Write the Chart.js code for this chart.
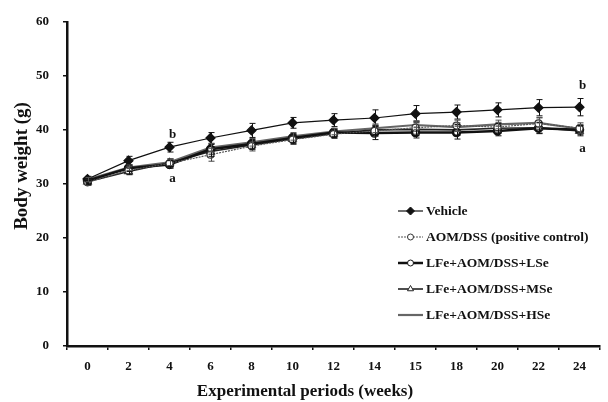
<!DOCTYPE html>
<html>
<head>
<meta charset="utf-8">
<script src="https://cdn.jsdelivr.net/npm/chart.js@4"></script>
<style>
  body { margin: 0; background: #fff; }
  #wrap { width: 608px; height: 402px; }
</style>
</head>
<body>
<div id="wrap"><canvas id="myChart"></canvas></div>
<script>
// Data
const weeks = ['0', '2', '4', '6', '8', '10', '12', '14', '15', '18', '20', '22', '24'];

const vehicle = [30.9, 34.3, 36.8, 38.5, 39.9, 41.3, 41.8, 42.2, 43.0, 43.3, 43.7, 44.1, 44.2];
const aomDss  = [30.3, 32.5, 33.8, 35.4, 37.0, 38.2, 39.2, 39.8, 40.4, 40.8, 40.5, 41.2, 40.3];
const lfeLse  = [30.6, 32.9, 33.6, 36.4, 37.4, 38.5, 39.5, 39.4, 39.5, 39.5, 39.8, 40.3, 40.0];
const lfeMse  = [30.4, 32.3, 33.9, 36.0, 37.2, 38.3, 39.3, 40.0, 40.1, 40.0, 40.3, 40.4, 39.8];
const lfeHse  = [30.8, 33.0, 34.0, 36.7, 37.7, 38.8, 39.7, 40.3, 40.9, 40.5, 41.0, 41.3, 40.2];

const vehicleErr = [0.5, 0.8, 0.9, 1.0, 1.3, 1.0, 1.2, 1.5, 1.5, 1.3, 1.3, 1.5, 1.6];
const aomDssErr  = [0.6, 0.7, 0.8, 1.2, 0.9, 0.9, 0.8, 1.0, 1.2, 1.0, 0.9, 1.1, 1.0];
const lfeLseErr  = [0.5, 0.6, 0.7, 0.9, 0.8, 0.8, 0.7, 1.2, 1.0, 1.2, 0.9, 1.0, 0.8];
const lfeMseErr  = [0.5, 0.6, 0.7, 0.9, 0.8, 0.8, 0.7, 0.9, 1.2, 1.0, 0.9, 1.0, 0.9];
const lfeHseErr  = [0.4, 0.5, 0.6, 0.8, 0.7, 0.7, 0.6, 0.8, 0.8, 0.8, 0.8, 0.9, 0.8];

// significance letters: [week label, value, text]
const letters = [['4', 39.2, 'b'], ['4', 30.9, 'a'], ['24', 48.1, 'b'], ['24', 36.6, 'a']];

const xTitle = 'Experimental periods (weeks)';
const yTitle = 'Body weight (g)';

const serif = '"Liberation Serif", "Times New Roman", serif';

const errorBars = {
    id: 'errorBars',
    afterDatasetsDraw(chart) {
        const ctx = chart.ctx;
        const x = chart.scales.x, y = chart.scales.y;
        ctx.save();
        chart.data.datasets.forEach(ds => {
            if (!ds.err) return;
            ctx.strokeStyle = ds.barColor || '#111';
            ctx.lineWidth = 1;
            ds.data.forEach((v, i) => {
                const px = Math.round(x.getPixelForValue(i)) + 0.5;
                const top = y.getPixelForValue(v + ds.err[i]);
                const bot = y.getPixelForValue(v - ds.err[i]);
                ctx.beginPath();
                ctx.moveTo(px, top); ctx.lineTo(px, bot);
                ctx.moveTo(px - 3, top); ctx.lineTo(px + 3, top);
                ctx.moveTo(px - 3, bot); ctx.lineTo(px + 3, bot);
                ctx.stroke();
            });
        });
        ctx.restore();
    },
    afterDraw(chart) {
        const ctx = chart.ctx;
        const x = chart.scales.x, y = chart.scales.y;
        ctx.save();
        ctx.fillStyle = '#111';
        ctx.font = 'bold 13px ' + serif;
        ctx.textAlign = 'center';
        ctx.textBaseline = 'middle';
        letters.forEach(([w, v, t]) => {
            ctx.fillText(t, x.getPixelForValue(weeks.indexOf(w)) + 3, y.getPixelForValue(v));
        });

        // axis titles (sit off-centre in the original figure)
        ctx.font = 'bold 17px ' + serif;
        ctx.fillText(xTitle, 305, 392);
        ctx.save();
        ctx.translate(22, 166);
        ctx.rotate(-Math.PI / 2);
        ctx.font = 'bold 19px ' + serif;
        ctx.fillText(yTitle, 0, 0);
        ctx.restore();

        // legend inside the plot area
        const lx = 398, ly = 211, step = 26;
        ctx.textAlign = 'left';
        ctx.font = 'bold 13.5px ' + serif;
        chart.data.datasets.forEach((ds, i) => {
            const cy = ly + i * step;
            ctx.strokeStyle = ds.borderColor;
            ctx.lineWidth = ds.borderWidth;
            ctx.setLineDash(ds.borderDash || []);
            ctx.beginPath();
            ctx.moveTo(lx, cy); ctx.lineTo(lx + 25, cy);
            ctx.stroke();
            ctx.setLineDash([]);
            if (ds.pointRadius > 0) {
                ctx.fillStyle = ds.pointBackgroundColor;
                ctx.strokeStyle = ds.pointBorderColor;
                ctx.lineWidth = 1;
                Chart.helpers.drawPoint(ctx, {
                    pointStyle: ds.pointStyle, radius: ds.pointRadius - 0.5,
                    borderWidth: 1, rotation: 0
                }, lx + 12.5, cy);
            }
            ctx.fillStyle = '#111';
            ctx.fillText(ds.label, lx + 28, cy + 1);
        });
        ctx.restore();
    }
};

const ctx = document.getElementById('myChart').getContext('2d');
new Chart(ctx, {
    type: 'line',
    data: {
        labels: weeks,
        datasets: [
            {
                label: 'Vehicle', data: vehicle, err: vehicleErr,
                borderColor: '#111', borderWidth: 1.2,
                pointStyle: 'rectRot', pointRadius: 4.5,
                pointBackgroundColor: '#111', pointBorderColor: '#111'
            },
            {
                label: 'AOM/DSS (positive control)', data: aomDss, err: aomDssErr,
                borderColor: '#555', borderWidth: 1.2, borderDash: [2, 1],
                pointStyle: 'circle', pointRadius: 3.5,
                pointBackgroundColor: '#fff', pointBorderColor: '#333', barColor: '#444'
            },
            {
                label: 'LFe+AOM/DSS+LSe', data: lfeLse, err: lfeLseErr,
                borderColor: '#111', borderWidth: 2.5,
                pointStyle: 'circle', pointRadius: 3.5,
                pointBackgroundColor: '#fff', pointBorderColor: '#111'
            },
            {
                label: 'LFe+AOM/DSS+MSe', data: lfeMse, err: lfeMseErr,
                borderColor: '#222', borderWidth: 1.6,
                pointStyle: 'triangle', pointRadius: 4,
                pointBackgroundColor: '#fff', pointBorderColor: '#222'
            },
            {
                label: 'LFe+AOM/DSS+HSe', data: lfeHse, err: lfeHseErr,
                borderColor: '#666', borderWidth: 2.2,
                pointStyle: 'circle', pointRadius: 0,
                pointBackgroundColor: '#666', pointBorderColor: '#666', barColor: '#555'
            }
        ]
    },
    options: {
        responsive: true,
        maintainAspectRatio: false,
        animation: false,
        layout: { padding: { top: 20, right: 8, left: 0, bottom: 2 } },
        plugins: {
            legend: { display: false },
            tooltip: { enabled: false }
        },
        scales: {
            x: {
                offset: true,
                afterFit: scale => { scale.height = 54; },
                grid: {
                    offset: true, drawOnChartArea: false, drawTicks: true,
                    tickLength: 4, color: '#111', lineWidth: 1.5
                },
                border: { color: '#111', width: 2.5 },
                ticks: {
                    color: '#111', padding: 9, maxRotation: 0, autoSkip: false,
                    font: { family: serif, size: 13, weight: 'bold' }
                }
            },
            y: {
                min: 0, max: 60,
                afterFit: scale => { scale.width = 67; },
                grid: {
                    drawOnChartArea: false, drawTicks: true,
                    tickLength: 4, color: '#111', lineWidth: 1.5
                },
                border: { color: '#111', width: 2.5 },
                ticks: {
                    stepSize: 10, color: '#111', padding: 14,
                    font: { family: serif, size: 13, weight: 'bold' }
                }
            }
        }
    },
    plugins: [errorBars]
});
</script>
</body>
</html>
